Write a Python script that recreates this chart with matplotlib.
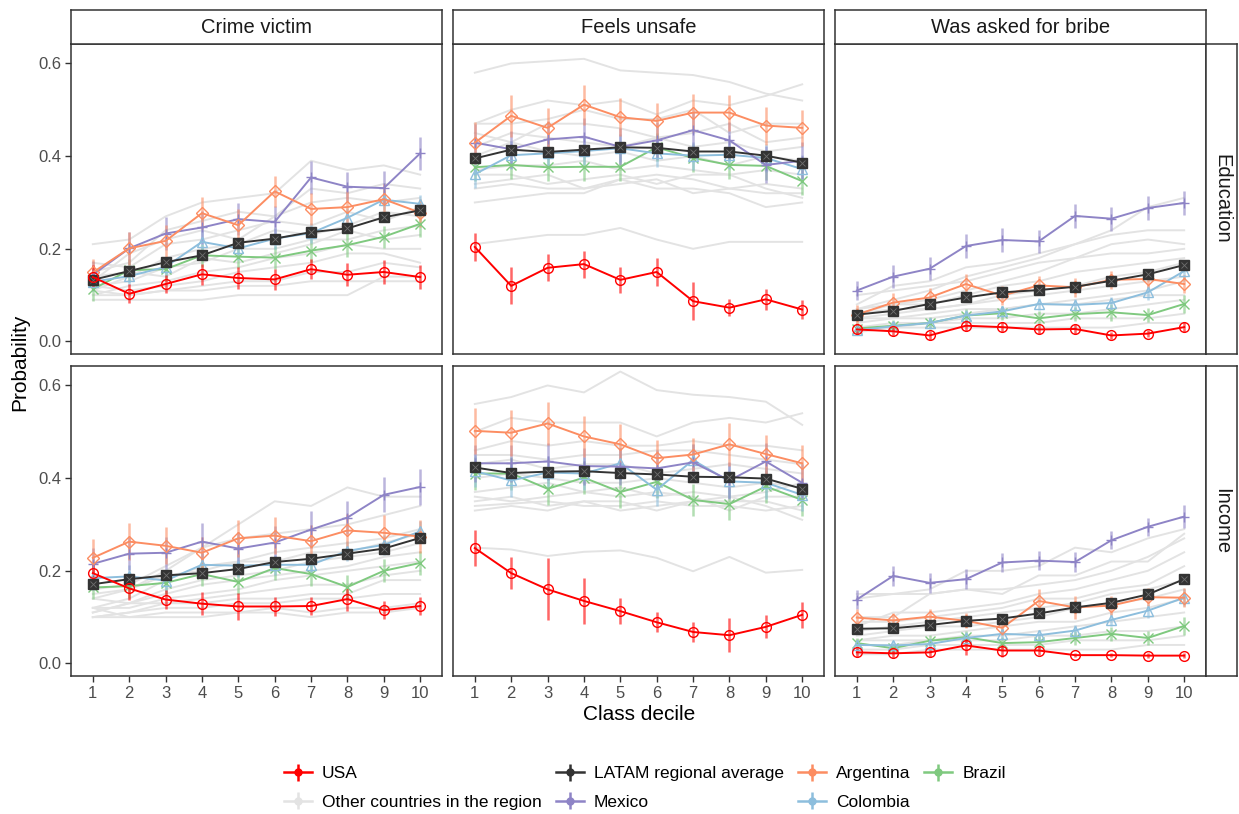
import numpy as np
import matplotlib.pyplot as plt

plt.rcParams['font.family'] = ['Liberation Sans', 'DejaVu Sans']

# DATA
deciles = [1, 2, 3, 4, 5, 6, 7, 8, 9, 10]
outcomes = ["Crime victim", "Feels unsafe", "Was asked for bribe"]
measures = ["Education", "Income"]

# point estimates, keyed by (measure, outcome)
usa = {
    ("Education", "Crime victim"): [0.139, 0.103, 0.124, 0.145, 0.137, 0.134, 0.156, 0.144, 0.150, 0.139],
    ("Education", "Feels unsafe"): [0.204, 0.120, 0.159, 0.167, 0.133, 0.150, 0.087, 0.073, 0.091, 0.069],
    ("Education", "Was asked for bribe"): [0.026, 0.022, 0.013, 0.034, 0.031, 0.026, 0.027, 0.013, 0.017, 0.031],
    ("Income", "Crime victim"): [0.195, 0.162, 0.138, 0.129, 0.123, 0.123, 0.124, 0.139, 0.115, 0.124],
    ("Income", "Feels unsafe"): [0.249, 0.195, 0.160, 0.135, 0.113, 0.089, 0.068, 0.061, 0.079, 0.105],
    ("Income", "Was asked for bribe"): [0.024, 0.022, 0.024, 0.039, 0.028, 0.028, 0.018, 0.018, 0.017, 0.017],
}
latam = {
    ("Education", "Crime victim"): [0.133, 0.152, 0.171, 0.186, 0.213, 0.222, 0.236, 0.244, 0.268, 0.283],
    ("Education", "Feels unsafe"): [0.395, 0.414, 0.409, 0.414, 0.419, 0.418, 0.410, 0.410, 0.401, 0.386],
    ("Education", "Was asked for bribe"): [0.058, 0.066, 0.081, 0.095, 0.106, 0.111, 0.118, 0.131, 0.145, 0.165],
    ("Income", "Crime victim"): [0.171, 0.182, 0.190, 0.195, 0.204, 0.219, 0.226, 0.237, 0.248, 0.271],
    ("Income", "Feels unsafe"): [0.423, 0.411, 0.414, 0.415, 0.411, 0.408, 0.403, 0.402, 0.399, 0.377],
    ("Income", "Was asked for bribe"): [0.075, 0.076, 0.083, 0.092, 0.097, 0.108, 0.121, 0.131, 0.149, 0.182],
}
argentina = {
    ("Education", "Crime victim"): [0.149, 0.201, 0.217, 0.277, 0.251, 0.324, 0.286, 0.290, 0.307, 0.278],
    ("Education", "Feels unsafe"): [0.429, 0.487, 0.461, 0.511, 0.484, 0.476, 0.494, 0.494, 0.466, 0.461],
    ("Education", "Was asked for bribe"): [0.058, 0.084, 0.095, 0.124, 0.099, 0.121, 0.117, 0.133, 0.135, 0.124],
    ("Income", "Crime victim"): [0.228, 0.263, 0.254, 0.239, 0.270, 0.276, 0.264, 0.287, 0.282, 0.274],
    ("Income", "Feels unsafe"): [0.502, 0.498, 0.518, 0.490, 0.473, 0.443, 0.451, 0.473, 0.452, 0.432],
    ("Income", "Was asked for bribe"): [0.099, 0.093, 0.101, 0.092, 0.077, 0.135, 0.121, 0.125, 0.143, 0.142],
}
mexico = {
    ("Education", "Crime victim"): [0.144, 0.201, 0.233, 0.246, 0.264, 0.258, 0.354, 0.334, 0.331, 0.406],
    ("Education", "Feels unsafe"): [0.429, 0.415, 0.436, 0.442, 0.420, 0.434, 0.456, 0.434, 0.381, 0.390],
    ("Education", "Was asked for bribe"): [0.110, 0.140, 0.157, 0.206, 0.219, 0.216, 0.271, 0.265, 0.288, 0.299],
    ("Income", "Crime victim"): [0.215, 0.237, 0.239, 0.263, 0.248, 0.261, 0.289, 0.315, 0.364, 0.381],
    ("Income", "Feels unsafe"): [0.432, 0.432, 0.436, 0.426, 0.425, 0.421, 0.434, 0.395, 0.436, 0.390],
    ("Income", "Was asked for bribe"): [0.138, 0.189, 0.174, 0.182, 0.218, 0.222, 0.219, 0.266, 0.295, 0.317],
}
colombia = {
    ("Education", "Crime victim"): [0.129, 0.141, 0.161, 0.215, 0.201, 0.222, 0.234, 0.267, 0.306, 0.297],
    ("Education", "Feels unsafe"): [0.361, 0.402, 0.406, 0.411, 0.417, 0.406, 0.401, 0.403, 0.396, 0.372],
    ("Education", "Was asked for bribe"): [0.024, 0.033, 0.040, 0.056, 0.065, 0.081, 0.079, 0.083, 0.106, 0.152],
    ("Income", "Crime victim"): [0.184, 0.188, 0.179, 0.213, 0.211, 0.213, 0.213, 0.243, 0.256, 0.285],
    ("Income", "Feels unsafe"): [0.415, 0.395, 0.412, 0.410, 0.432, 0.375, 0.439, 0.393, 0.390, 0.364],
    ("Income", "Was asked for bribe"): [0.040, 0.039, 0.042, 0.055, 0.064, 0.061, 0.071, 0.094, 0.114, 0.142],
}
brazil = {
    ("Education", "Crime victim"): [0.113, 0.154, 0.156, 0.186, 0.183, 0.181, 0.196, 0.208, 0.226, 0.254],
    ("Education", "Feels unsafe"): [0.376, 0.381, 0.376, 0.377, 0.377, 0.419, 0.396, 0.381, 0.379, 0.346],
    ("Education", "Was asked for bribe"): [0.028, 0.034, 0.040, 0.056, 0.061, 0.050, 0.059, 0.063, 0.057, 0.081],
    ("Income", "Crime victim"): [0.164, 0.167, 0.174, 0.193, 0.176, 0.206, 0.193, 0.165, 0.200, 0.217],
    ("Income", "Feels unsafe"): [0.410, 0.410, 0.377, 0.401, 0.370, 0.392, 0.353, 0.344, 0.382, 0.353],
    ("Income", "Was asked for bribe"): [0.044, 0.033, 0.049, 0.057, 0.044, 0.046, 0.055, 0.064, 0.055, 0.081],
}

# half-widths of the confidence intervals
usa_err = {
    ("Education", "Crime victim"): [0.025, 0.020, 0.020, 0.023, 0.023, 0.022, 0.022, 0.025, 0.025, 0.025],
    ("Education", "Feels unsafe"): [0.031, 0.040, 0.029, 0.029, 0.028, 0.030, 0.041, 0.019, 0.022, 0.021],
    ("Education", "Was asked for bribe"): [0.012, 0.010, 0.010, 0.012, 0.010, 0.010, 0.010, 0.008, 0.008, 0.010],
    ("Income", "Crime victim"): [0.020, 0.025, 0.020, 0.025, 0.030, 0.020, 0.020, 0.025, 0.020, 0.020],
    ("Income", "Feels unsafe"): [0.039, 0.034, 0.067, 0.049, 0.028, 0.022, 0.022, 0.037, 0.025, 0.028],
    ("Income", "Was asked for bribe"): [0.010, 0.010, 0.010, 0.020, 0.015, 0.010, 0.005, 0.005, 0.005, 0.005],
}
latam_err = {
    ("Education", "Crime victim"): [0.008, 0.008, 0.008, 0.008, 0.008, 0.008, 0.008, 0.008, 0.008, 0.008],
    ("Education", "Feels unsafe"): [0.009, 0.009, 0.009, 0.009, 0.009, 0.009, 0.009, 0.009, 0.009, 0.009],
    ("Education", "Was asked for bribe"): [0.005, 0.005, 0.005, 0.005, 0.005, 0.005, 0.005, 0.005, 0.005, 0.006],
    ("Income", "Crime victim"): [0.008, 0.008, 0.008, 0.008, 0.008, 0.008, 0.008, 0.008, 0.008, 0.008],
    ("Income", "Feels unsafe"): [0.009, 0.009, 0.009, 0.009, 0.009, 0.009, 0.009, 0.009, 0.009, 0.009],
    ("Income", "Was asked for bribe"): [0.005, 0.005, 0.005, 0.005, 0.005, 0.005, 0.005, 0.005, 0.006, 0.006],
}
argentina_err = {
    ("Education", "Crime victim"): [0.030, 0.035, 0.035, 0.035, 0.035, 0.034, 0.035, 0.035, 0.033, 0.030],
    ("Education", "Feels unsafe"): [0.045, 0.045, 0.043, 0.043, 0.041, 0.039, 0.041, 0.039, 0.041, 0.039],
    ("Education", "Was asked for bribe"): [0.020, 0.020, 0.020, 0.022, 0.020, 0.020, 0.020, 0.020, 0.020, 0.020],
    ("Income", "Crime victim"): [0.040, 0.040, 0.040, 0.035, 0.040, 0.040, 0.035, 0.035, 0.038, 0.035],
    ("Income", "Feels unsafe"): [0.050, 0.050, 0.046, 0.045, 0.043, 0.040, 0.035, 0.047, 0.042, 0.040],
    ("Income", "Was asked for bribe"): [0.018, 0.016, 0.016, 0.016, 0.016, 0.025, 0.025, 0.020, 0.020, 0.020],
}
mexico_err = {
    ("Education", "Crime victim"): [0.030, 0.035, 0.035, 0.035, 0.035, 0.035, 0.036, 0.031, 0.036, 0.036],
    ("Education", "Feels unsafe"): [0.040, 0.040, 0.040, 0.040, 0.040, 0.040, 0.040, 0.040, 0.040, 0.040],
    ("Education", "Was asked for bribe"): [0.020, 0.025, 0.025, 0.025, 0.025, 0.025, 0.026, 0.026, 0.025, 0.025],
    ("Income", "Crime victim"): [0.035, 0.035, 0.035, 0.040, 0.035, 0.035, 0.040, 0.036, 0.038, 0.038],
    ("Income", "Feels unsafe"): [0.040, 0.040, 0.040, 0.040, 0.040, 0.040, 0.040, 0.040, 0.040, 0.040],
    ("Income", "Was asked for bribe"): [0.020, 0.022, 0.022, 0.022, 0.020, 0.020, 0.022, 0.020, 0.020, 0.025],
}
colombia_err = {
    ("Education", "Crime victim"): [0.020, 0.020, 0.022, 0.025, 0.025, 0.022, 0.022, 0.022, 0.022, 0.020],
    ("Education", "Feels unsafe"): [0.030, 0.030, 0.030, 0.030, 0.030, 0.030, 0.030, 0.030, 0.030, 0.030],
    ("Education", "Was asked for bribe"): [0.010, 0.010, 0.010, 0.012, 0.012, 0.012, 0.012, 0.014, 0.016, 0.020],
    ("Income", "Crime victim"): [0.025, 0.025, 0.025, 0.025, 0.025, 0.022, 0.022, 0.022, 0.022, 0.022],
    ("Income", "Feels unsafe"): [0.035, 0.035, 0.035, 0.035, 0.035, 0.035, 0.035, 0.035, 0.035, 0.035],
    ("Income", "Was asked for bribe"): [0.010, 0.010, 0.010, 0.012, 0.012, 0.012, 0.012, 0.014, 0.015, 0.018],
}
brazil_err = {
    ("Education", "Crime victim"): [0.025, 0.025, 0.025, 0.025, 0.024, 0.025, 0.025, 0.026, 0.024, 0.028],
    ("Education", "Feels unsafe"): [0.030, 0.030, 0.030, 0.030, 0.030, 0.030, 0.030, 0.030, 0.030, 0.030],
    ("Education", "Was asked for bribe"): [0.012, 0.012, 0.012, 0.015, 0.015, 0.015, 0.015, 0.018, 0.016, 0.020],
    ("Income", "Crime victim"): [0.025, 0.025, 0.025, 0.025, 0.025, 0.025, 0.025, 0.027, 0.025, 0.025],
    ("Income", "Feels unsafe"): [0.035, 0.035, 0.035, 0.035, 0.035, 0.035, 0.035, 0.035, 0.035, 0.035],
    ("Income", "Was asked for bribe"): [0.010, 0.010, 0.012, 0.013, 0.013, 0.013, 0.015, 0.015, 0.015, 0.020],
}

# other countries in the region (grey lines)
others = {
    ("Education", "Crime victim"): [
        [0.21, 0.22, 0.27, 0.30, 0.31, 0.32, 0.39, 0.37, 0.38, 0.36],
        [0.15, 0.17, 0.24, 0.26, 0.28, 0.27, 0.33, 0.32, 0.34, 0.33],
        [0.13, 0.19, 0.22, 0.24, 0.22, 0.27, 0.30, 0.31, 0.30, 0.31],
        [0.17, 0.16, 0.21, 0.22, 0.24, 0.26, 0.25, 0.28, 0.26, 0.29],
        [0.11, 0.14, 0.18, 0.20, 0.21, 0.24, 0.23, 0.25, 0.28, 0.27],
        [0.12, 0.13, 0.16, 0.17, 0.20, 0.20, 0.22, 0.22, 0.24, 0.25],
        [0.14, 0.15, 0.14, 0.18, 0.17, 0.19, 0.21, 0.24, 0.22, 0.23],
        [0.10, 0.12, 0.13, 0.15, 0.16, 0.18, 0.19, 0.21, 0.20, 0.20],
        [0.12, 0.11, 0.12, 0.13, 0.15, 0.16, 0.17, 0.19, 0.19, 0.17],
        [0.10, 0.10, 0.11, 0.12, 0.13, 0.13, 0.15, 0.15, 0.17, 0.16],
        [0.09, 0.09, 0.09, 0.09, 0.10, 0.10, 0.10, 0.10, 0.14, 0.14],
        [0.11, 0.10, 0.11, 0.11, 0.12, 0.12, 0.13, 0.13, 0.13, 0.13],
    ],
    ("Education", "Feels unsafe"): [
        [0.58, 0.60, 0.605, 0.61, 0.585, 0.58, 0.575, 0.56, 0.535, 0.52],
        [0.47, 0.50, 0.52, 0.51, 0.52, 0.49, 0.52, 0.51, 0.53, 0.555],
        [0.47, 0.47, 0.48, 0.50, 0.48, 0.48, 0.50, 0.45, 0.47, 0.47],
        [0.45, 0.43, 0.47, 0.47, 0.46, 0.44, 0.45, 0.47, 0.43, 0.44],
        [0.42, 0.45, 0.44, 0.43, 0.42, 0.44, 0.42, 0.43, 0.41, 0.42],
        [0.40, 0.43, 0.41, 0.40, 0.41, 0.39, 0.40, 0.38, 0.40, 0.39],
        [0.37, 0.38, 0.38, 0.39, 0.37, 0.38, 0.37, 0.36, 0.37, 0.36],
        [0.36, 0.36, 0.34, 0.35, 0.36, 0.34, 0.36, 0.36, 0.33, 0.31],
        [0.34, 0.35, 0.36, 0.33, 0.35, 0.36, 0.35, 0.33, 0.32, 0.32],
        [0.33, 0.34, 0.33, 0.33, 0.34, 0.35, 0.32, 0.33, 0.34, 0.33],
        [0.30, 0.31, 0.32, 0.32, 0.35, 0.33, 0.33, 0.32, 0.29, 0.30],
        [0.21, 0.22, 0.23, 0.23, 0.245, 0.22, 0.20, 0.215, 0.215, 0.215],
    ],
    ("Education", "Was asked for bribe"): [
        [0.08, 0.12, 0.13, 0.16, 0.17, 0.19, 0.21, 0.24, 0.29, 0.31],
        [0.07, 0.09, 0.11, 0.14, 0.16, 0.18, 0.21, 0.23, 0.24, 0.24],
        [0.10, 0.11, 0.12, 0.13, 0.15, 0.17, 0.18, 0.21, 0.22, 0.21],
        [0.06, 0.08, 0.09, 0.11, 0.13, 0.15, 0.18, 0.19, 0.19, 0.20],
        [0.07, 0.08, 0.08, 0.10, 0.12, 0.13, 0.15, 0.16, 0.17, 0.18],
        [0.05, 0.06, 0.07, 0.08, 0.10, 0.11, 0.12, 0.14, 0.15, 0.17],
        [0.06, 0.07, 0.07, 0.08, 0.09, 0.10, 0.11, 0.12, 0.13, 0.14],
        [0.04, 0.05, 0.05, 0.06, 0.07, 0.08, 0.09, 0.10, 0.11, 0.13],
        [0.05, 0.05, 0.06, 0.07, 0.07, 0.08, 0.08, 0.09, 0.10, 0.10],
        [0.03, 0.04, 0.04, 0.05, 0.05, 0.06, 0.06, 0.07, 0.08, 0.09],
        [0.03, 0.03, 0.04, 0.04, 0.04, 0.04, 0.05, 0.05, 0.05, 0.06],
        [0.02, 0.03, 0.03, 0.03, 0.03, 0.03, 0.03, 0.03, 0.04, 0.04],
    ],
    ("Income", "Crime victim"): [
        [0.16, 0.17, 0.21, 0.25, 0.27, 0.28, 0.29, 0.30, 0.32, 0.34],
        [0.14, 0.16, 0.20, 0.25, 0.30, 0.35, 0.34, 0.38, 0.36, 0.36],
        [0.15, 0.16, 0.19, 0.20, 0.22, 0.24, 0.25, 0.26, 0.27, 0.29],
        [0.12, 0.14, 0.18, 0.21, 0.22, 0.22, 0.24, 0.24, 0.26, 0.28],
        [0.14, 0.13, 0.16, 0.18, 0.19, 0.20, 0.22, 0.23, 0.24, 0.26],
        [0.11, 0.13, 0.15, 0.17, 0.18, 0.19, 0.20, 0.21, 0.23, 0.24],
        [0.12, 0.12, 0.14, 0.15, 0.16, 0.18, 0.19, 0.20, 0.21, 0.22],
        [0.10, 0.11, 0.13, 0.14, 0.15, 0.16, 0.17, 0.17, 0.19, 0.20],
        [0.11, 0.13, 0.13, 0.13, 0.14, 0.14, 0.15, 0.15, 0.18, 0.18],
        [0.10, 0.11, 0.12, 0.12, 0.13, 0.13, 0.14, 0.14, 0.15, 0.15],
        [0.10, 0.10, 0.11, 0.11, 0.11, 0.12, 0.11, 0.12, 0.12, 0.13],
        [0.12, 0.10, 0.10, 0.10, 0.11, 0.11, 0.10, 0.11, 0.11, 0.12],
    ],
    ("Income", "Feels unsafe"): [
        [0.56, 0.575, 0.60, 0.585, 0.63, 0.59, 0.58, 0.575, 0.565, 0.515],
        [0.50, 0.53, 0.52, 0.52, 0.52, 0.49, 0.52, 0.53, 0.52, 0.54],
        [0.46, 0.48, 0.47, 0.48, 0.47, 0.47, 0.48, 0.47, 0.47, 0.46],
        [0.45, 0.45, 0.44, 0.45, 0.45, 0.46, 0.46, 0.45, 0.44, 0.43],
        [0.43, 0.44, 0.42, 0.43, 0.43, 0.41, 0.42, 0.43, 0.42, 0.41],
        [0.40, 0.41, 0.40, 0.39, 0.39, 0.40, 0.39, 0.38, 0.39, 0.38],
        [0.37, 0.38, 0.39, 0.37, 0.38, 0.36, 0.37, 0.36, 0.37, 0.39],
        [0.36, 0.35, 0.36, 0.37, 0.36, 0.37, 0.36, 0.33, 0.36, 0.36],
        [0.35, 0.36, 0.34, 0.35, 0.35, 0.33, 0.35, 0.35, 0.35, 0.33],
        [0.34, 0.345, 0.35, 0.34, 0.34, 0.35, 0.34, 0.34, 0.33, 0.34],
        [0.33, 0.34, 0.33, 0.35, 0.33, 0.34, 0.35, 0.36, 0.34, 0.31],
        [0.25, 0.246, 0.232, 0.241, 0.244, 0.228, 0.199, 0.23, 0.196, 0.202],
    ],
    ("Income", "Was asked for bribe"): [
        [0.14, 0.15, 0.16, 0.20, 0.20, 0.21, 0.25, 0.24, 0.27, 0.29],
        [0.15, 0.15, 0.15, 0.16, 0.15, 0.19, 0.19, 0.22, 0.22, 0.28],
        [0.10, 0.10, 0.15, 0.16, 0.16, 0.17, 0.18, 0.20, 0.23, 0.27],
        [0.08, 0.11, 0.11, 0.12, 0.13, 0.15, 0.16, 0.18, 0.20, 0.24],
        [0.09, 0.09, 0.10, 0.11, 0.12, 0.14, 0.14, 0.16, 0.17, 0.21],
        [0.07, 0.08, 0.09, 0.10, 0.11, 0.12, 0.13, 0.15, 0.16, 0.18],
        [0.06, 0.07, 0.08, 0.08, 0.09, 0.10, 0.12, 0.13, 0.14, 0.16],
        [0.05, 0.06, 0.06, 0.07, 0.08, 0.09, 0.09, 0.11, 0.12, 0.14],
        [0.05, 0.05, 0.05, 0.06, 0.06, 0.07, 0.08, 0.09, 0.10, 0.11],
        [0.04, 0.04, 0.05, 0.05, 0.05, 0.06, 0.06, 0.07, 0.07, 0.08],
        [0.03, 0.03, 0.04, 0.04, 0.04, 0.04, 0.05, 0.05, 0.05, 0.06],
        [0.02, 0.02, 0.03, 0.03, 0.03, 0.03, 0.03, 0.03, 0.04, 0.04],
    ],
}

# series drawn on top of the grey lines, in drawing order
series = [
    ("Brazil", brazil, brazil_err, "#7FC97F", "x"),
    ("Colombia", colombia, colombia_err, "#8DBEDD", "^"),
    ("Mexico", mexico, mexico_err, "#8E84C6", "+"),
    ("Argentina", argentina, argentina_err, "#FC8D62", "D"),
    ("LATAM regional average", latam, latam_err, "#333333", "s"),
    ("USA", usa, usa_err, "#FF0000", "o"),
]
GREY = "#E3E3E3"
BORDER = "#333333"

# LAYOUT (pixel boxes of the reference)
W, H = 1239, 814
fig = plt.figure(figsize=(W / 100, H / 100), dpi=100)

col_x = [71, 453, 835]
pan_w = 371
row_y = [44, 366]
pan_h = 310
ylim = (-0.027, 0.642)


def box(x0, y0, w, h):
    return [x0 / W, 1 - (y0 + h) / H, w / W, h / H]


axes = {}
for r, m in enumerate(measures):
    for c, o in enumerate(outcomes):
        ax = fig.add_axes(box(col_x[c], row_y[r], pan_w, pan_h))
        axes[(m, o)] = ax
        key = (m, o)

        for g in others[key]:
            ax.plot(deciles, g, color=GREY, lw=1.4, zorder=1)

        for name, vals, errs, col, mk in series:
            ax.errorbar(deciles, vals[key], yerr=errs[key], fmt="none",
                        ecolor=col, elinewidth=1.8, alpha=0.6, capsize=0, zorder=2)
            if name == "LATAM regional average":
                ax.plot(deciles, vals[key], color=col, lw=1.4, marker="s", ms=6.5,
                        mfc=col, mec=col, zorder=4)
                ax.plot(deciles, vals[key], ls="none", marker="x", ms=4.5,
                        mec="#6f6f6f", mew=0.6, zorder=5)
            else:
                ax.plot(deciles, vals[key], color=col, lw=1.4, marker=mk,
                        ms=7 if mk != "D" else 6, mfc="none", mec=col, mew=1.0,
                        zorder=6 if name == "USA" else 3)

        ax.set_xlim(0.4, 10.6)
        ax.set_ylim(*ylim)
        ax.set_xticks(deciles)
        ax.set_yticks([0.0, 0.2, 0.4, 0.6])
        for s in ax.spines.values():
            s.set_color(BORDER)
            s.set_linewidth(1.1)
        ax.tick_params(colors=BORDER, labelcolor="#4D4D4D", labelsize=12,
                       length=4, width=1.0, pad=3)
        if c == 0:
            ax.set_yticklabels(["0.0", "0.2", "0.4", "0.6"])
        else:
            ax.tick_params(axis="y", left=False, labelleft=False)
        if r == 1:
            ax.set_xticklabels([str(d) for d in deciles])
        else:
            ax.tick_params(axis="x", bottom=False, labelbottom=False)

# facet strips
for c, o in enumerate(outcomes):
    sax = fig.add_axes(box(col_x[c], 10, pan_w, 34))
    sax.set_xticks([])
    sax.set_yticks([])
    for s in sax.spines.values():
        s.set_color(BORDER)
        s.set_linewidth(1.1)
    sax.text(0.5, 0.48, o, ha="center", va="center", fontsize=14.5, color="#1A1A1A",
             transform=sax.transAxes)

for r, m in enumerate(measures):
    sax = fig.add_axes(box(1206, row_y[r], 31, pan_h))
    sax.set_xticks([])
    sax.set_yticks([])
    for s in sax.spines.values():
        s.set_color(BORDER)
        s.set_linewidth(1.1)
    sax.text(0.5, 0.5, m, ha="center", va="center", fontsize=14.5, color="#1A1A1A",
             rotation=-90, transform=sax.transAxes)

fig.text(639 / W, 1 - 715 / H, "Class decile", ha="center", va="center", fontsize=15)
fig.text(20 / W, 1 - 362 / H, "Probability", ha="center", va="center",
         fontsize=15, rotation=90)

# legend: proxy pointranges
proxy_ax = axes[("Education", "Crime victim")]
leg_items = [
    ("USA", "#FF0000"),
    ("Other countries in the region", GREY),
    ("LATAM regional average", "#333333"),
    ("Mexico", "#8E84C6"),
    ("Argentina", "#FC8D62"),
    ("Colombia", "#8DBEDD"),
    ("Brazil", "#7FC97F"),
]
handles = []
for lbl, col in leg_items:
    h = proxy_ax.errorbar([np.nan], [np.nan], yerr=[0.1], color=col, marker="o",
                          ms=5, lw=1.8, elinewidth=1.8, capsize=0)
    handles.append(h)
fig.legend(handles, [l for l, _ in leg_items], loc="center",
           bbox_to_anchor=(645 / W, 1 - 788 / H), ncol=4, frameon=False,
           fontsize=12.5, handlelength=1.6, handletextpad=0.6,
           columnspacing=0.8, labelspacing=0.75)

fig.savefig("out.png", dpi=100)
